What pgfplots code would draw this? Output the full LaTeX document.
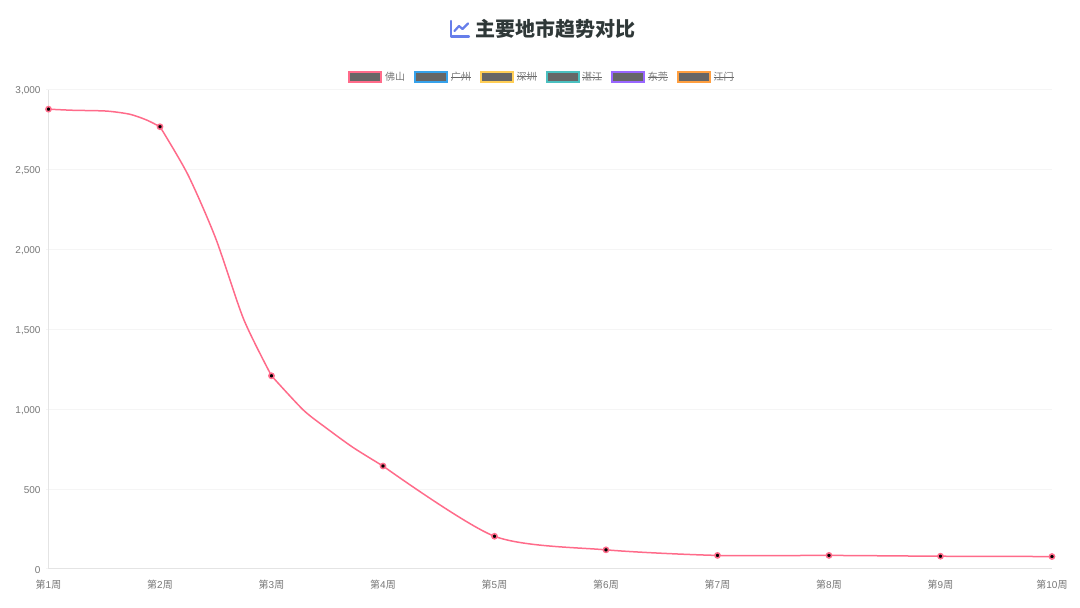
\documentclass[border=0pt]{standalone}
\usepackage{fontspec}
\usepackage{pgfplots}
\pgfplotsset{compat=1.18}
\setmainfont{Liberation Sans}
\newfontfamily\cjk{Noto Sans CJK SC}

\definecolor{fs}{HTML}{FF6B8A}
\definecolor{gz}{HTML}{36A2EB}
\definecolor{sz}{HTML}{FFCE56}
\definecolor{zj}{HTML}{4BC0C0}
\definecolor{dg}{HTML}{9966FF}
\definecolor{jm}{HTML}{FF9F40}
\definecolor{swt}{HTML}{666666}
\definecolor{lbl}{HTML}{777777}
\definecolor{gridc}{HTML}{F5F5F5}
\definecolor{axisc}{HTML}{E4E4E4}
\definecolor{ttl}{HTML}{2F3838}
\definecolor{icon}{HTML}{667EEA}

\newcommand\wk[1]{{\cjk 第}#1{\cjk 周}}
% hidden legend entries are struck through
\newcommand\hid[1]{\leavevmode\rlap{\textcolor{swt}{\rule[3.2pt]{20pt}{0.7pt}}}#1}
\newcommand\swatch[1]{\addlegendimage{legend image code/.code={
  \draw[draw=#1, fill=swt, line width=2pt] (0pt,-5pt) rectangle (32pt,5pt);}}}

\begin{document}
\begin{tikzpicture}[x=1pt,y=1pt]
\path[use as bounding box] (0,0) rectangle (1080,608);

\begin{axis}[
  at={(48.5pt,39pt)}, anchor=south west,
  scale only axis, width=1003.5pt, height=479pt,
  xmin=0, xmax=9, ymin=0, ymax=3000,
  clip=false,
  axis x line=bottom, axis y line=left,
  axis line style={draw=axisc, line width=1pt, -},
  xtick={0,...,9},
  xticklabels={\wk{1},\wk{2},\wk{3},\wk{4},\wk{5},\wk{6},\wk{7},\wk{8},\wk{9},\wk{10}},
  ytick={0,500,...,3000},
  ymajorgrids,
  grid style={draw=gridc, line width=1pt},
  major tick length=6pt,
  tick style={draw=gridc, line width=1pt},
  xtick style={draw=none},
  tick label style={text=lbl, font=\fontsize{10}{12}\selectfont},
  xticklabel style={yshift=-4.5pt},
  yticklabel style={xshift=-1.5pt, yshift=-1pt},
  /pgf/number format/assume math mode=true,
  scaled y ticks=false,
  y tick label style={/pgf/number format/.cd, fixed, 1000 sep={,}},
  legend columns=6,
  legend style={
    at={(493.5pt,492pt)}, anchor=center,
    draw=none, fill=none, inner sep=0pt, outer sep=0pt,
    font=\fontsize{10}{12}\selectfont, text=lbl,
    /tikz/every even column/.style={column sep=7pt},
    /tikz/every odd column/.style={column sep=0.7pt},
  },
  legend cell align=left,
]
\swatch{fs}\addlegendentry{\cjk 佛山}
\swatch{gz}\addlegendentry{\cjk\hid{广州}}
\swatch{sz}\addlegendentry{\cjk\hid{深圳}}
\swatch{zj}\addlegendentry{\cjk\hid{湛江}}
\swatch{dg}\addlegendentry{\cjk\hid{东莞}}
\swatch{jm}\addlegendentry{\cjk\hid{江门}}

% the line in pieces, extra points in the first three weeks
\pgfplotsset{every axis plot/.append style={forget plot}}
\addplot[color=fs, line width=1.5pt, line cap=round, smooth, tension=0.45] coordinates {
  (0,2880) (0.22,2873) (0.52,2868) (0.73,2848) (0.88,2812) (1,2770)
};
\addplot[color=fs, line width=1.5pt, line cap=round, smooth, tension=0.45] coordinates {
  (1,2770) (1.25,2470) (1.5,2070) (1.75,1565) (2,1210)
};
\addplot[color=fs, line width=1.5pt, line cap=round, smooth, tension=0.45] coordinates {
  (2,1210) (2.285,996) (2.495,881) (2.734,760) (3,645)
};
\addplot[color=fs, line width=1.5pt, line cap=round, smooth, tension=0.45] coordinates {
  (3,645) (4,205) (5,120) (6,85) (7,85) (8,80) (9,78)
};
% the weekly values
\addplot[
  only marks,
  mark=*, mark size=2.6pt,
  mark options={draw=fs, fill=black, line width=1.5pt},
] coordinates {
  (0,2880) (1,2770) (2,1210) (3,645) (4,205)
  (5,120) (6,85) (7,85) (8,80) (9,78)
};
\end{axis}

% title with chart-line icon
\draw[icon, line width=2.2pt, line cap=round, line join=round]
  (451,587) -- (451,571.5) -- (469,571.5);
\draw[icon, line width=2.2pt, line cap=round, line join=round]
  (454.5,577) -- (459,582) -- (462.5,579) -- (468,584.5);
\node[anchor=center, text=ttl, inner sep=0pt] at (555,579)
  {\fontsize{20}{24}\selectfont\cjk\bfseries 主要地市趋势对比};
\end{tikzpicture}
\end{document}
